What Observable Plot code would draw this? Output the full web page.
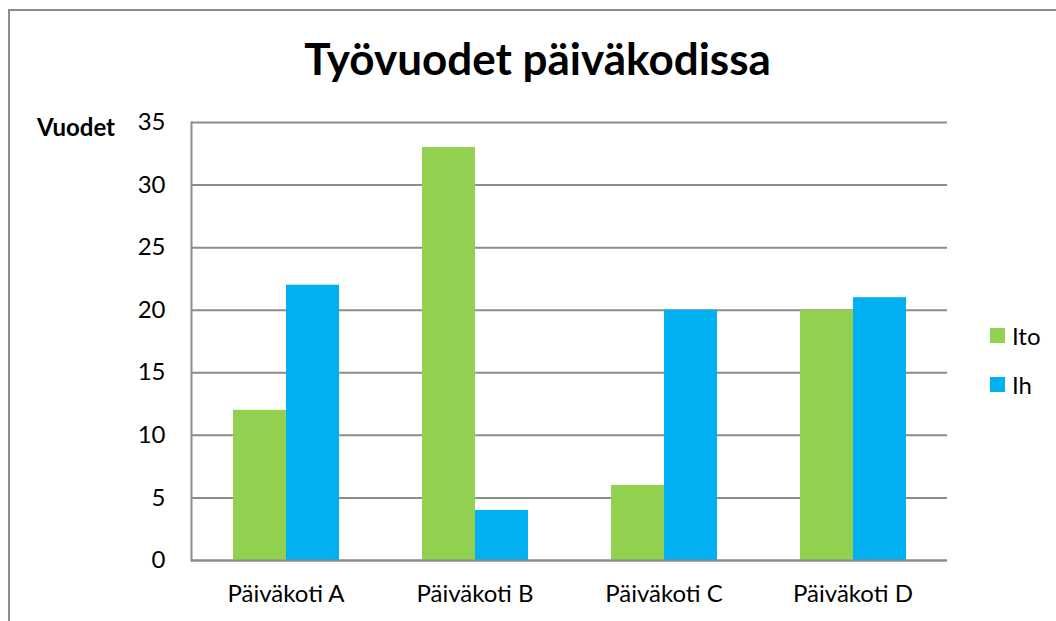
<!DOCTYPE html>
<html>
<head>
<meta charset="utf-8">
<script src="https://cdn.jsdelivr.net/npm/d3@7"></script>
<script src="https://cdn.jsdelivr.net/npm/@observablehq/plot@0.6"></script>
<style>
  html, body { margin: 0; padding: 0; background: #fff; overflow: hidden; width: 1056px; height: 621px; }
  #wrap { position: relative; width: 1056px; height: 621px; font-family: Lato, "Open Sans", sans-serif; }
  #border { position: absolute; left: 8px; top: 9px; width: 1100px; height: 700px; border-top: 2px solid #8c8c8c; border-left: 2px solid #8c8c8c; }
  #chart { position: absolute; left: 0; top: 0; }
  .abs { position: absolute; line-height: 1; white-space: nowrap; color: #000; }
  #title { left: 0; width: 1075px; text-align: center; top: 36px; font-size: 44px; font-weight: 700; }
  #ylabel { left: 37px; top: 115px; font-size: 24px; font-weight: 700; }
  .sw { position: absolute; width: 15px; height: 15px; }
  .lt { font-size: 24px; }
</style>
</head>
<body>
<div id="wrap">
  <div id="border"></div>
  <div id="chart"></div>
  <div id="title" class="abs"></div>
  <div id="ylabel" class="abs"></div>
  <div id="legend"></div>
</div>
<script>
const title = "Työvuodet päiväkodissa";
const yLabel = "Vuodet";
const categories = ["Päiväkoti A", "Päiväkoti B", "Päiväkoti C", "Päiväkoti D"];
const seriesNames = ["Ito", "Ih"];
const itoValues = [12, 33, 6, 20];
const ihValues = [22, 4, 20, 21];
const yTicks = [0, 5, 10, 15, 20, 25, 30, 35];
const seriesColors = ["#92D050", "#00B0F0"];

const data = categories.flatMap((c, i) => [
  {cat: c, s: seriesNames[0], v: itoValues[i]},
  {cat: c, s: seriesNames[1], v: ihValues[i]}
]);

const gridColor = "#8c8c8c";

const chart = Plot.plot({
  width: 1056,
  height: 621,
  marginTop: 122,
  marginBottom: 61,
  marginLeft: 191,
  marginRight: 109,
  style: {fontFamily: "Lato, 'Open Sans', sans-serif", fontSize: "24px", color: "#000", background: "transparent"},
  fx: {domain: categories, padding: 0, label: null},
  x: {domain: seriesNames, paddingInner: 0, paddingOuter: 0.78, axis: null},
  y: {domain: [0, 35], label: null},
  color: {domain: seriesNames, range: seriesColors},
  marks: [
    Plot.gridY(yTicks, {stroke: gridColor, strokeOpacity: 1, strokeWidth: 2}),
    Plot.barY(data, {fx: "cat", x: "s", y: "v", fill: "s"}),
    Plot.ruleY([0], {stroke: gridColor, strokeWidth: 2}),
    Plot.frame({anchor: "left", fx: [categories[0]], stroke: gridColor, strokeWidth: 2}),
    Plot.axisY(yTicks, {tickSize: 0, tickPadding: 26, label: null, fontSize: 24}),
    Plot.axisFx({anchor: "bottom", tickSize: 0, tickPadding: 24, label: null, fontSize: 24})
  ]
});
document.getElementById("chart").appendChild(chart);

document.getElementById("title").textContent = title;
document.getElementById("ylabel").textContent = yLabel;

const legend = document.getElementById("legend");
const legendTops = [324, 373];
seriesNames.forEach((name, i) => {
  const sw = document.createElement("div");
  sw.className = "sw";
  sw.style.left = "990px";
  sw.style.top = (legendTops[i] + 4) + "px";
  sw.style.background = seriesColors[i];
  legend.appendChild(sw);
  const t = document.createElement("div");
  t.className = "abs lt";
  t.style.left = "1012px";
  t.style.top = legendTops[i] + "px";
  t.textContent = name;
  legend.appendChild(t);
});
</script>
</body>
</html>
